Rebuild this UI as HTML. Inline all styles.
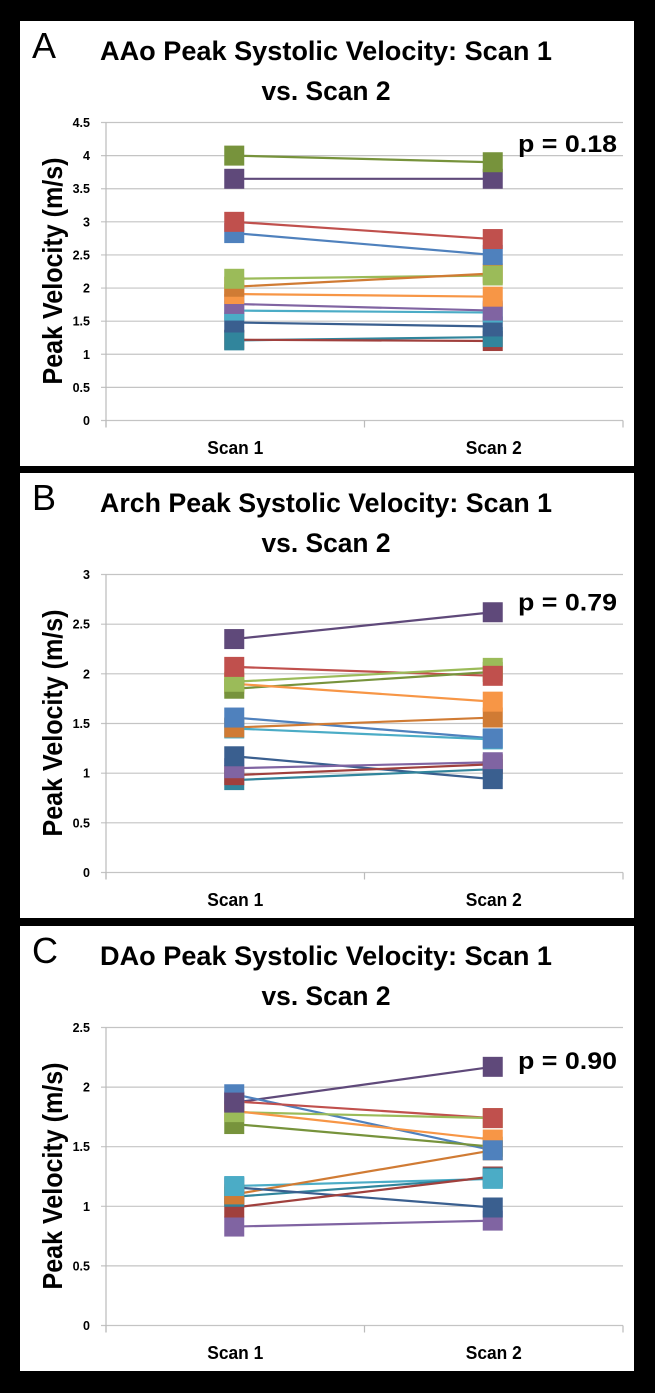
<!DOCTYPE html>
<html><head><meta charset="utf-8"><style>
html,body{margin:0;padding:0;background:#000;}
svg{display:block;}
text{font-family:"Liberation Sans",sans-serif;}
</style></head><body>
<svg id="fig" width="655" height="1393" viewBox="0 0 655 1393" xmlns="http://www.w3.org/2000/svg">
<rect x="0" y="0" width="655" height="1393" fill="#000"/>
</svg>
<script>
const categories = ["Scan 1", "Scan 2"];
// Panel A
const aTitle = "AAo Peak Systolic Velocity: Scan 1";
const aTicks = ["0","0.5","1","1.5","2","2.5","3","3.5","4","4.5"];
const aScan1 = [4.00, 3.65, 3.00, 2.83, 2.14, 2.02, 1.91, 1.76, 1.66, 1.48, 1.21, 1.22];
const aScan2 = [3.90, 3.65, 2.74, 2.50, 2.19, 2.22, 1.87, 1.66, 1.63, 1.42, 1.26, 1.20];
const aColors = ["#77933C","#5F497A","#C0504D","#4F81BD","#9BBB59","#D07B34","#F79646","#8064A2","#4BACC6","#3A5F8F","#31859C","#A0403D"];
// Panel B
const bTitle = "Arch Peak Systolic Velocity: Scan 1";
const bTicks = ["0","0.5","1","1.5","2","2.5","3"];
const bScan1 = [2.35, 2.07, 1.92, 1.85, 1.90, 1.56, 1.46, 1.45, 1.17, 1.05, 0.98, 0.93];
const bScan2 = [2.62, 1.98, 2.06, 2.02, 1.72, 1.35, 1.56, 1.34, 0.94, 1.11, 1.09, 1.04];
const bColors = ["#5F497A","#C0504D","#9BBB59","#77933C","#F79646","#4F81BD","#D07B34","#4BACC6","#3A5F8F","#8064A2","#A0403D","#31859C"];
// Panel C
const cTitle = "DAo Peak Systolic Velocity: Scan 1";
const cTicks = ["0","0.5","1","1.5","2","2.5"];
const cScan1 = [1.87, 1.94, 1.88, 1.79, 1.80, 1.69, 1.17, 1.10, 1.08, 1.16, 0.99, 0.83];
const cScan2 = [2.17, 1.47, 1.74, 1.74, 1.56, 1.50, 1.23, 1.47, 1.24, 0.99, 1.25, 0.88];
const cColors = ["#5F497A","#4F81BD","#C0504D","#9BBB59","#F79646","#77933C","#4BACC6","#D07B34","#31859C","#3A5F8F","#A0403D","#8064A2"];
const pValues = ["p  = 0.18","p  = 0.79","p  = 0.90"];

const NS = "http://www.w3.org/2000/svg";
const svg = document.getElementById("fig");
function mk(tag, attrs, parent, txt){
  const e = document.createElementNS(NS, tag);
  for (const k in attrs) e.setAttribute(k, attrs[k]);
  if (txt !== undefined) e.textContent = txt;
  parent.appendChild(e);
  return e;
}
function panel(top, letter, title, ticks, s1, s2, colors, pText, pDy, key){
  const g = mk("g", {}, svg);
  
  
  const bg = mk("rect", {x:20, y:top, width:614, height:445, fill:"#fff"}, g);
  
  
  const L = mk("text", {x:32, y:top+37, "font-size":36, fill:"#000"}, g, letter);
  
  
  const t1 = mk("text", {x:326, y:top+39, "font-size":27, "font-weight":"bold", "text-anchor":"middle", textLength:452, lengthAdjust:"spacingAndGlyphs"}, g, title);
  
  
  const t2 = mk("text", {x:326, y:top+79, "font-size":27, "font-weight":"bold", "text-anchor":"middle", textLength:129, lengthAdjust:"spacingAndGlyphs"}, g, "vs. Scan 2");
  
  
  const x0 = 106, x1 = 623, yTop = top+101.5, yBot = top+399.5;
  const vmax = parseFloat(ticks[ticks.length-1]);
  const yS = v => yBot - (v / vmax) * (yBot - yTop);
  const xS = i => x0 + (x1 - x0) * (i * 2 + 1) / 4 - 1;
  ticks.forEach(tk => {
    const v = parseFloat(tk), y = yS(v);
    const gl = mk("line", {x1:x0-5, x2:x1, y1:y, y2:y, stroke:"#c4c4c4", "stroke-width":1.2}, g);
    
    
    const tl = mk("text", {x:90, y:y+4.5, "font-size":12.5, "font-weight":"bold", "text-anchor":"end"}, g, tk);
    
    
  });
  const ax = mk("line", {x1:x0, x2:x0, y1:yTop, y2:yBot+7, stroke:"#bbb", "stroke-width":1.2}, g);
  
  
  [x0, (x0+x1)/2, x1].forEach(x => {
    const tm = mk("line", {x1:x, x2:x, y1:yBot, y2:yBot+7, stroke:"#bbb", "stroke-width":1.2}, g);
    
    
  });
  categories.forEach((c, i) => {
    const cl = mk("text", {x:xS(i)+1, y:top+433, "font-size":18, "font-weight":"bold", "text-anchor":"middle", textLength:56, lengthAdjust:"spacingAndGlyphs"}, g, c);
    
    
  });
  const yl = mk("text", {x:0, y:0, "font-size":28, "font-weight":"bold", "text-anchor":"middle", textLength:227, lengthAdjust:"spacingAndGlyphs", transform:`translate(62,${top+250}) rotate(-90)`}, g, "Peak Velocity (m/s)");
  
  
  s1.forEach((v, k) => {
    const ln = mk("line", {x1:xS(0), y1:yS(v), x2:xS(1), y2:yS(s2[k]), stroke:colors[k], "stroke-width":2.2}, g);
    
    
  });
  for (let k = s1.length - 1; k >= 0; k--) {
    [s1[k], s2[k]].forEach((val, i) => {
      const m = mk("rect", {x:xS(i)-10, y:yS(val)-10, width:20, height:20, fill:colors[k]}, g);
      
      
    });
  }
  const p = mk("text", {x:518, y:top+pDy+9, "font-size":24, "font-weight":"bold", textLength:99, lengthAdjust:"spacingAndGlyphs"}, g, pText);
  
  
}
panel(21, "A", aTitle, aTicks, aScan1, aScan2, aColors, pValues[0], 122, "a");
panel(473, "B", bTitle, bTicks, bScan1, bScan2, bColors, pValues[1], 128.7, "b");
panel(926, "C", cTitle, cTicks, cScan1, cScan2, cColors, pValues[2], 134, "c");
</script>
</body></html>
